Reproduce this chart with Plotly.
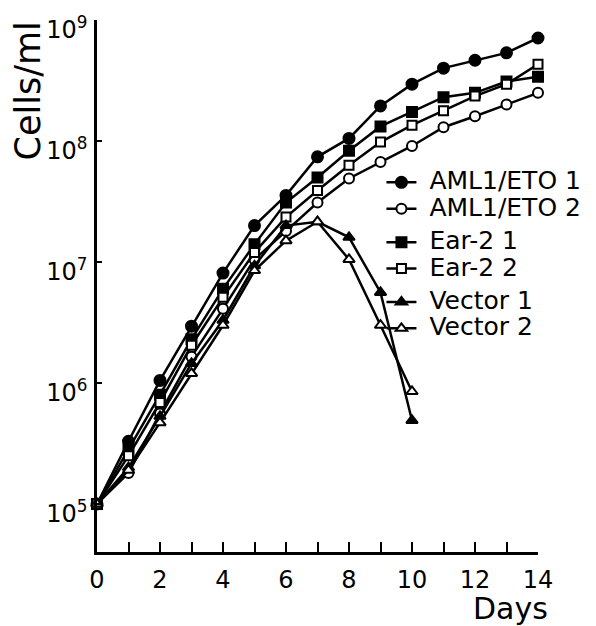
import plotly.graph_objects as go

days_long = list(range(0, 15))
days_short = list(range(0, 11))

aml1_eto_1 = [1.0e5, 3.3e5, 1.05e6, 2.95e6, 8.1e6, 2.0e7, 3.55e7, 7.4e7, 1.05e8, 1.95e8, 2.95e8, 4.0e8, 4.65e8, 5.35e8, 7.1e8]
aml1_eto_2 = [1.0e5, 1.8e5, 5.6e5, 1.65e6, 4.1e6, 1.05e7, 1.8e7, 3.1e7, 4.9e7, 6.7e7, 9.1e7, 1.3e8, 1.6e8, 2.0e8, 2.5e8]
ear2_1 = [1.0e5, 2.8e5, 8.0e5, 2.3e6, 6.0e6, 1.4e7, 3.1e7, 5.0e7, 8.3e7, 1.32e8, 1.74e8, 2.3e8, 2.5e8, 3.1e8, 3.4e8]
ear2_2 = [1.0e5, 2.5e5, 6.9e5, 2.05e6, 5.1e6, 1.2e7, 2.35e7, 3.9e7, 6.3e7, 9.8e7, 1.35e8, 1.78e8, 2.35e8, 2.95e8, 4.3e8]
vector_1 = [1.0e5, 2.0e5, 5.3e5, 1.45e6, 3.3e6, 9.3e6, 2.0e7, 2.15e7, 1.6e7, 5.6e6, 4.9e5]
vector_2 = [1.0e5, 1.9e5, 4.7e5, 1.2e6, 3.0e6, 8.5e6, 1.5e7, 2.15e7, 1.05e7, 3.0e6, 8.5e5]

series_names = ["AML1/ETO 1", "AML1/ETO 2", "Ear-2 1", "Ear-2 2", "Vector 1", "Vector 2"]
x_tick_vals = list(range(0, 15))
x_tick_text = [str(v) if v % 2 == 0 else "" for v in x_tick_vals]
y_tick_vals = [1e5, 1e6, 1e7, 1e8, 1e9]
y_tick_text = ["10<sup>5</sup>", "10<sup>6</sup>", "10<sup>7</sup>", "10<sup>8</sup>", "10<sup>9</sup>"]

FONT = "DejaVu Sans"
series = [
    (series_names[0], days_long, aml1_eto_1, "circle", "black", 11, "g1"),
    (series_names[1], days_long, aml1_eto_2, "circle", "white", 10, "g1"),
    (series_names[2], days_long, ear2_1, "square", "black", 10, "g2"),
    (series_names[3], days_long, ear2_2, "square", "white", 9, "g2"),
    (series_names[4], days_short, vector_1, "triangle-up", "black", 10, "g3"),
    (series_names[5], days_short, vector_2, "triangle-up", "white", 10, "g3"),
]

fig = go.Figure()
for name, xs, ys, sym, fill, size, grp in series:
    fig.add_trace(go.Scatter(
        x=xs, y=ys, mode="lines+markers",
        name="<span style='font-size:25px'>&nbsp;" + name + "</span>",
        legendgroup=grp,
        line=dict(color="black", width=2.5),
        marker=dict(symbol=sym, size=size, color=fill, line=dict(color="black", width=2)),
        cliponaxis=False,
    ))

fig.update_layout(
    width=596, height=626,
    margin=dict(l=89, r=66, t=12, b=82),
    paper_bgcolor="white", plot_bgcolor="white",
    font=dict(family=FONT, color="black"),
    showlegend=True,
    legend=dict(
        x=0.645, y=0.729, xanchor="left", yanchor="top",
        font=dict(size=18, family=FONT, color="black"),
        bgcolor="rgba(0,0,0,0)", tracegroupgap=7,
        itemclick=False,
    ),
    xaxis=dict(
        range=[0, 14], tickmode="array", tickvals=x_tick_vals, ticktext=x_tick_text,
        ticks="inside", ticklen=10, tickwidth=2, tickcolor="black",
        showline=True, linecolor="black", linewidth=2.5,
        showgrid=False, zeroline=False, automargin=False,
        tickfont=dict(size=24, family=FONT), ticklabelstandoff=4,
        ticklabeloverflow="allow",
    ),
    yaxis=dict(
        type="log", range=[4.603, 9.0], tickmode="array", tickvals=y_tick_vals, ticktext=y_tick_text,
        ticks="inside", ticklen=5, tickwidth=2, tickcolor="black",
        showline=True, linecolor="black", linewidth=2.5,
        showgrid=False, zeroline=False, automargin=False,
        tickfont=dict(size=24, family=FONT), ticklabelstandoff=2,
        ticklabelshift=10, ticklabeloverflow="allow",
    ),
    annotations=[
        dict(text="Cells/ml", xref="paper", yref="paper", x=-0.156, y=0.866,
             textangle=-90, showarrow=False, font=dict(size=35, family=FONT),
             xanchor="center", yanchor="middle"),
        dict(text="Days", xref="paper", yref="paper", x=0.937, y=-0.106,
             showarrow=False, font=dict(size=30, family=FONT),
             xanchor="center", yanchor="middle"),
    ],
)

fig.write_html("out.html")
